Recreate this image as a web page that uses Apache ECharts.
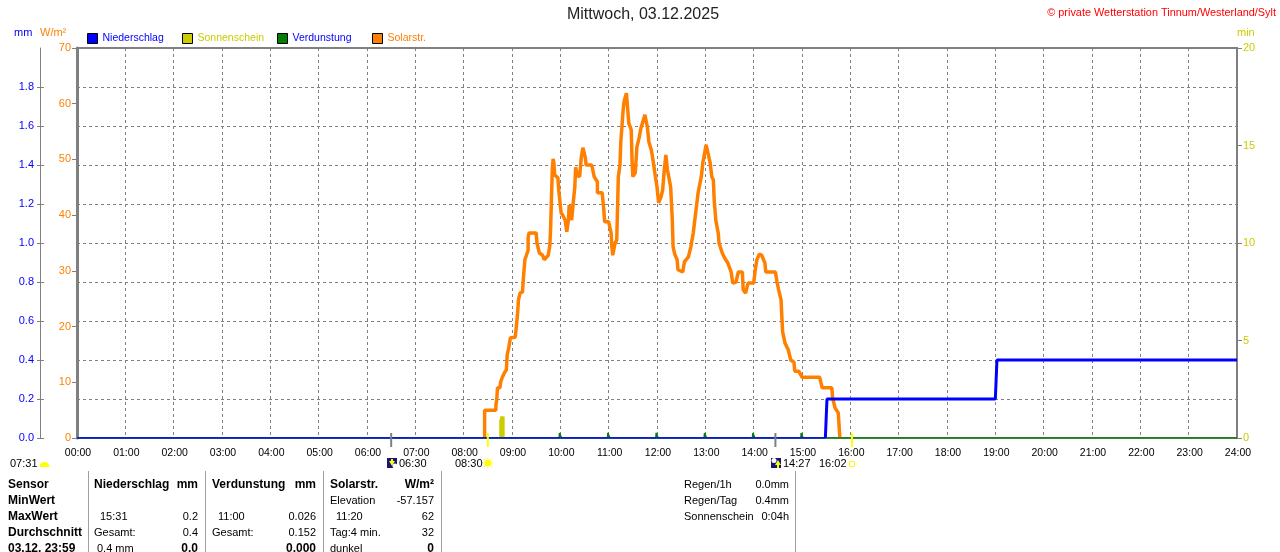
<!DOCTYPE html>
<html>
<head>
<meta charset="utf-8">
<style>html,body{margin:0;padding:0;background:#fff;overflow:hidden}#c{width:1280px;height:552px}</style>
<script src="https://cdn.jsdelivr.net/npm/echarts@6/dist/echarts.min.js"></script>
</head>
<body>
<div id="c"></div>
<script>
// ---------- data ----------
const timeLabels = ['00:00','01:00','02:00','03:00','04:00','05:00','06:00','07:00','08:00','09:00','10:00','11:00','12:00','13:00','14:00','15:00','16:00','17:00','18:00','19:00','20:00','21:00','22:00','23:00','24:00'];
const mmTicks = [0,0.2,0.4,0.6,0.8,1.0,1.2,1.4,1.6,1.8];
const solarMinutes = [506,506,520,520,521,522,525,526,528,531,533,534,536,538,544,545,547,548,550,553,554,556,560,560,561,570,571,574,578,580,582,585,587,588,590,591,592,593,597,598,601,603,606,608,610,611,613,614,616,618,619,621,624,626,628,631,632,639,642,646,646,652,654,655,660,663,664,665,668,670,672,674,675,678,679,682,683,685,688,689,690,693,695,698,700,705,708,710,713,715,718,720,722,725,727,729,731,733,736,737,739,740,742,745,746,752,754,759,762,765,768,771,775,777,781,783,786,788,790,791,793,796,797,801,804,808,812,814,818,821,826,827,830,833,840,842,844,847,850,854,855,867,869,871,874,875,876,879,883,886,890,891,896,900,922,925,937,938,941,945,947];
const solarValues = [0,5.0,5.0,5.9,6.8,9.0,9.0,10.1,10.9,11.8,12.2,14.9,16.2,18.0,18.1,19.4,22.4,24.8,26.0,26.2,28.4,32.0,33.7,35.9,36.8,36.8,35.0,33.2,32.8,32.0,32.0,32.8,34.6,37.9,48.1,50.1,49.4,47.2,46.7,44.5,40.4,40.0,39.1,37.0,39.1,41.8,41.8,39.1,42.2,45.1,48.6,47.2,46.9,50.4,52.1,50.3,49.0,49.0,46.9,46.0,44.0,44.0,40.9,38.8,38.8,36.8,34.3,32.8,35.0,35.5,46.9,49.0,53.0,58.9,60.3,61.9,60.1,56.5,55.3,49.9,46.9,47.6,52.2,54.0,55.6,58.0,55.8,53.1,51.7,49.9,46.9,45.1,42.2,43.3,44.5,48.1,50.8,48.1,45.8,44.9,39.1,34.3,33.0,32.0,30.2,29.8,31.6,32.5,34.3,36.8,40.4,44.0,46.9,49.5,52.6,52.8,49.4,46.9,46.3,42.7,39.1,36.8,35.0,33.2,32.3,31.4,29.8,27.8,28.0,29.8,29.8,26.6,26.0,27.8,27.8,30.2,32.0,33.0,32.8,31.4,29.8,29.8,28.0,26.6,24.8,21.7,19.0,17.0,15.8,14.0,13.6,12.0,12.0,10.9,10.9,9.0,9.0,7.2,5.4,4.5,0];
const rainBaseMinutes = [0,929];
const rainBaseValues = [0,0];
const rainMinutes = [929,930,931,1140,1141,1142,1440];
const rainValues = [0,0.1,0.2,0.2,0.3,0.4,0.4];
const evapMinutes = [0,598.5,599,601,601.5,658.5,659,661,661.5,718.5,719,721,721.5,778.5,779,781,781.5,838.5,839,841,841.5,898.5,899,901,901.5,1440];
const evapValues = [0,0,0.025,0.025,0,0,0.026,0.026,0,0,0.026,0.026,0,0,0.025,0.025,0,0,0.025,0.025,0,0,0.025,0.025,0,0];
const sunMinutes = [526,527,528,529];
const sunValues = [0.95,1.1,1.1,1.1];
const sunEvents = [510,962];
const moonEvents = [390,867];

const sensorCol = ['Sensor','MinWert','MaxWert','Durchschnitt','03.12. 23:59'];
const rainLabels = ['Niederschlag','','15:31','Gesamt:','0.4 mm'];
const rainStats = ['mm','','0.2','0.4','0.0'];
const evapLabels = ['Verdunstung','','11:00','Gesamt:',''];
const evapStats = ['mm','','0.026','0.152','0.000'];
const solarLabels = ['Solarstr.','Elevation','11:20','Tag:4 min.','dunkel'];
const solarStats = ['W/m²','-57.157','62','32','0'];
const sideLabels = ['Regen/1h','Regen/Tag','Sonnenschein'];
const sideStats = ['0.0mm','0.4mm','0:04h'];

// ---------- styling ----------
const FONT = '"Liberation Sans", Arial, sans-serif';
const BLUE = '#0000ff', ORANGE = '#ff8000', OLIVE = '#cccc00', GREEN = '#008000', GRAY = '#808080';
const zip = (a, b) => a.map((v, i) => [v, b[i]]);
const g = [];
function txt(x, y, text, o) {
  o = o || {};
  if (!text) return;
  g.push({ type: 'text', x, y, z: 20, silent: true, style: {
    text, fill: o.fill || '#000', font: (o.bold ? 'bold ' : '') + (o.size || 11) + 'px ' + FONT,
    textAlign: o.align || 'left', textVerticalAlign: 'middle' } });
}
function rect(x, y, w, h, fill, stroke) {
  g.push({ type: 'rect', z: 19, silent: true, shape: { x, y, width: w, height: h },
    style: { fill: fill || 'none', stroke: stroke || 'none', lineWidth: 1 } });
}
function poly(points, fill) {
  g.push({ type: 'polygon', z: 20, silent: true, shape: { points }, style: { fill } });
}
function circ(cx, cy, r, fill) {
  g.push({ type: 'circle', z: 20, silent: true, shape: { cx, cy, r }, style: { fill } });
}

// header
g.push({ type: 'text', x: 643, y: 15, z: 20, silent: true, style: { text: 'Mittwoch, 03.12.2025', fill: '#222', font: '16px ' + FONT, textAlign: 'center', textVerticalAlign: 'middle' } });
txt(1276, 12.5, '© private Wetterstation Tinnum/Westerland/Sylt', { fill: '#ff0000', align: 'right', size: 10.9 });
txt(14, 33, 'mm', { fill: BLUE });
txt(40, 33, 'W/m²', { fill: ORANGE });
txt(1237, 33, 'min', { fill: OLIVE });

// rise / set row
const rowY = 463.5;
txt(10, rowY, '07:31');
g.push({ type: 'sector', z: 20, silent: true, shape: { cx: 44.5, cy: 467, r0: 0, r: 5, startAngle: Math.PI, endAngle: 2 * Math.PI }, style: { fill: '#ffff00' } });
rect(387, 458, 10, 10, '#14147a');
circ(395, 466, 2.5, '#ffffff');
poly([[389, 461], [392, 466], [395, 461]], '#ffff00');
rect(391, 459, 2, 3, '#ffff00');
txt(399, rowY, '06:30');
txt(455, rowY, '08:30');
circ(488, 463, 3.5, '#ffff00');
[[0,-5],[0,5],[-5,0],[5,0],[-3.6,-3.6],[3.6,-3.6],[-3.6,3.6],[3.6,3.6]].forEach(d => rect(487.5 + d[0], 462.5 + d[1], 1, 1, '#ffff00'));
rect(771, 458, 10, 10, '#14147a');
circ(774, 460.5, 2.5, '#ffffff');
poly([[775, 465], [778, 460], [781, 465]], '#ffff00');
rect(777, 464, 2, 4, '#ffff00');
txt(783, rowY, '14:27');
txt(819, rowY, '16:02');
rect(849.5, 461.5, 5, 5, '#ffffff', '#ffff00');

// table
[88, 205, 323, 441, 795].forEach(x => g.push({ type: 'line', z: 18, silent: true, shape: { x1: x + .5, y1: 471, x2: x + .5, y2: 552 }, style: { stroke: '#a0a0a0', lineWidth: 1 } }));
const rowYs = [485, 501, 517, 533, 548.5];
const indents = [0, 0, 6, 0, 3];
sensorCol.forEach((t, i) => txt(8, rowYs[i], t, { bold: true, size: 12 }));
function block(labels, stats, xl, xr) {
  labels.forEach((t, i) => txt(xl + (xl === 330 && i === 4 ? 0 : indents[i]), rowYs[i], t, { bold: i === 0, size: i === 0 ? 12 : 11 }));
  stats.forEach((t, i) => txt(xr, rowYs[i], t, { align: 'right', bold: i === 0 || i === 4, size: (i === 0 || i === 4) ? 12 : 11 }));
}
block(rainLabels, rainStats, 94, 198);
block(evapLabels, evapStats, 212, 316);
block(solarLabels, solarStats, 330, 434);
sideLabels.forEach((t, i) => txt(684, rowYs[i], t));
sideStats.forEach((t, i) => txt(789, rowYs[i], t, { align: 'right' }));

const lineBase = { type: 'line', showSymbol: false, symbol: 'none', animation: false, silent: true, clip: true };
const eventTicks = (color) => (params, api) => {
  const p = api.coord([api.value(0), 0]);
  return { type: 'line', shape: { x1: p[0], y1: p[1] - 5, x2: p[0], y2: p[1] + 9 }, style: { stroke: color, lineWidth: 2 } };
};
const legendBase = { top: 33, padding: 0, itemWidth: 10, itemHeight: 10, selectedMode: false, icon: 'rect', itemStyle: { borderColor: '#000', borderWidth: 1 } };
const legendText = (c) => ({ color: c, fontFamily: FONT, fontSize: 10.5 });

const option = {
  animation: false,
  backgroundColor: '#ffffff',
  grid: { left: 77, right: 43, top: 48, bottom: 114, show: true, borderColor: GRAY, borderWidth: 2, backgroundColor: 'transparent' },
  legend: [
    Object.assign({}, legendBase, { left: 87, data: ['Niederschlag'], textStyle: legendText(BLUE) }),
    Object.assign({}, legendBase, { left: 182, data: ['Sonnenschein'], textStyle: legendText(OLIVE) }),
    Object.assign({}, legendBase, { left: 277, data: ['Verdunstung'], textStyle: legendText(BLUE) }),
    Object.assign({}, legendBase, { left: 372, data: ['Solarstr.'], textStyle: legendText(ORANGE) })
  ],
  xAxis: {
    type: 'value', min: 0, max: 1440, interval: 60,
    axisLine: { show: false, onZero: false }, axisTick: { show: false },
    splitLine: { show: true, lineStyle: { color: GRAY, type: [3, 3], width: 1 } },
    axisLabel: { color: '#000', fontFamily: FONT, fontSize: 10.5, margin: 10, padding: [0, 0, 0, 2], showMinLabel: true, showMaxLabel: true, hideOverlap: false, formatter: v => timeLabels[v / 60] }
  },
  yAxis: [
    { // mm: line and labels
      type: 'value', min: 0, max: 2, interval: 0.2, position: 'left', offset: 37,
      axisLine: { show: true, onZero: false, lineStyle: { color: GRAY, width: 1 } },
      axisTick: { show: false },
      splitLine: { show: true, lineStyle: { color: GRAY, type: [3, 3], width: 1 } },
      axisLabel: { color: BLUE, fontFamily: FONT, fontSize: 11, margin: 6, padding: [2, 0, 0, 0], showMaxLabel: false, formatter: v => v.toFixed(1) }
    },
    { // mm: ticks crossing the mm axis line
      type: 'value', min: 0, max: 2, interval: 0.2, position: 'left', offset: 33,
      axisLine: { show: false, onZero: false }, splitLine: { show: false }, axisLabel: { show: false },
      axisTick: { show: true, length: 7, customValues: mmTicks, lineStyle: { color: GRAY, width: 1 } }
    },
    { // W/m²
      type: 'value', min: 0, max: 70, interval: 10, position: 'left', offset: 0,
      axisLine: { show: true, onZero: false, lineStyle: { color: GRAY, width: 3 } }, splitLine: { show: false },
      axisTick: { show: true, length: 5, lineStyle: { color: GRAY, width: 1 } },
      axisLabel: { color: ORANGE, fontFamily: FONT, fontSize: 11, margin: 6, padding: [2, 0, 0, 0] }
    },
    { // min
      type: 'value', min: 0, max: 20, interval: 5, position: 'right', offset: 0,
      axisLine: { show: false, onZero: false }, splitLine: { show: false },
      axisTick: { show: true, length: 5, lineStyle: { color: GRAY, width: 1 } },
      axisLabel: { color: OLIVE, fontFamily: FONT, fontSize: 11, margin: 6, padding: [2, 0, 0, 0] }
    }
  ],
  series: [
    { name: 'Sonnenschein', type: 'bar', yAxisIndex: 3, data: zip(sunMinutes, sunValues), barWidth: 3, itemStyle: { color: OLIVE }, animation: false, silent: true, z: 2 },
    Object.assign({}, lineBase, { name: 'Solarstr.', yAxisIndex: 2, data: zip(solarMinutes, solarValues), lineStyle: { color: ORANGE, width: 3.5 }, itemStyle: { color: ORANGE }, z: 3 }),
    Object.assign({}, lineBase, { name: 'Verdunstung', yAxisIndex: 0, data: zip(evapMinutes, evapValues), lineStyle: { color: GREEN, width: 1.5 }, itemStyle: { color: GREEN }, z: 4 }),
    Object.assign({}, lineBase, { name: 'Niederschlag', yAxisIndex: 0, data: zip(rainBaseMinutes, rainBaseValues), lineStyle: { color: BLUE, width: 1.5 }, itemStyle: { color: BLUE }, z: 5 }),
    Object.assign({}, lineBase, { name: 'Niederschlag', yAxisIndex: 0, data: zip(rainMinutes, rainValues), lineStyle: { color: BLUE, width: 3 }, itemStyle: { color: BLUE }, z: 5 }),
    { type: 'custom', yAxisIndex: 0, data: sunEvents.map(m => [m, 0]), renderItem: eventTicks('#ffff00'), animation: false, silent: true, z: 6, clip: false },
    { type: 'custom', yAxisIndex: 0, data: moonEvents.map(m => [m, 0]), renderItem: eventTicks(GRAY), animation: false, silent: true, z: 6, clip: false }
  ],
  graphic: g
};
const chart = echarts.init(document.getElementById('c'), null, { renderer: 'canvas' });
chart.setOption(option);
</script>
</body>
</html>
